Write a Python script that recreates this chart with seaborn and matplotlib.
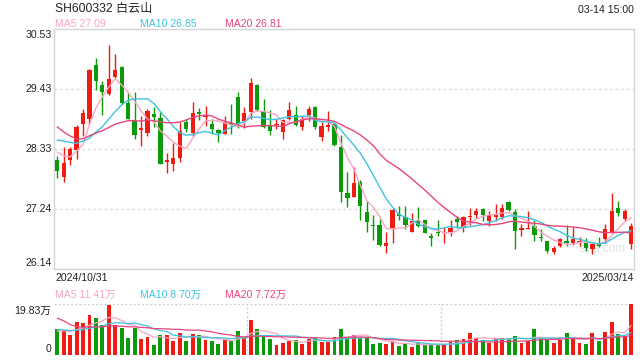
import numpy as np
import pandas as pd
import matplotlib
matplotlib.use("Agg")
import matplotlib.pyplot as plt
import seaborn as sns

# ---------------- data ----------------
opens = [28.13, 27.83, 28.14, 28.32, 28.80, 28.88, 29.87, 29.50, 29.35, 29.66,
         29.83, 29.17, 28.85, 28.69, 28.63, 28.97, 28.90, 28.10, 28.06, 28.17,
         28.82, 28.63, 29.01, 28.92, 28.79, 28.68, 28.61, 28.81, 29.28, 28.85,
         29.02, 29.50, 29.01, 28.78, 28.77, 28.65, 28.88, 28.95, 28.73, 28.95,
         29.10, 28.56, 28.74, 28.79, 28.38, 27.53, 27.46, 27.74, 27.18, 26.94,
         26.94, 26.56, 26.89, 27.14, 27.10, 26.82, 27.04, 27.03, 26.74, 26.82,
         26.79, 26.82, 27.05, 26.90, 27.09, 27.13, 27.23, 27.02, 27.10, 27.09,
         27.37, 27.19, 26.86, 26.87, 26.92, 26.73, 26.66, 26.45, 26.56, 26.65,
         26.62, 26.64, 26.62, 26.50, 26.62, 26.68, 26.81, 27.25, 27.06, 26.60]
highs = [28.21, 28.38, 28.37, 28.78, 29.06, 29.80, 30.00, 29.57, 30.24, 30.08,
         29.86, 29.37, 29.38, 28.93, 29.06, 29.10, 29.02, 28.26, 28.45, 28.83,
         28.89, 29.20, 29.09, 29.13, 28.89, 28.70, 28.93, 29.15, 29.37, 29.11,
         29.64, 29.52, 29.25, 29.05, 28.89, 28.89, 29.20, 29.13, 28.93, 29.13,
         29.13, 28.82, 29.03, 28.81, 28.59, 27.92, 28.00, 27.76, 27.39, 27.12,
         27.05, 26.82, 27.25, 27.29, 27.29, 27.16, 27.28, 27.04, 26.79, 27.03,
         26.90, 27.04, 27.11, 27.11, 27.26, 27.25, 27.25, 27.20, 27.32, 27.32,
         27.39, 27.23, 26.96, 27.21, 27.04, 26.88, 26.66, 26.56, 26.71, 26.94,
         26.91, 26.73, 26.70, 26.62, 26.73, 26.97, 27.53, 27.39, 27.23, 26.99]
lows = [27.80, 27.73, 28.05, 28.16, 28.58, 28.79, 29.41, 28.95, 29.33, 29.63,
        29.16, 28.88, 28.52, 28.39, 28.58, 28.74, 28.06, 27.90, 27.94, 28.09,
        28.64, 28.58, 28.86, 28.76, 28.61, 28.47, 28.61, 28.61, 28.72, 28.72,
        28.88, 29.03, 28.71, 28.59, 28.70, 28.52, 28.86, 28.76, 28.69, 28.84,
        28.70, 28.48, 28.67, 28.39, 27.36, 27.28, 27.46, 27.03, 26.81, 26.67,
        26.56, 26.43, 26.62, 27.03, 26.87, 26.81, 26.90, 26.79, 26.56, 26.74,
        26.62, 26.74, 26.89, 26.81, 26.94, 27.08, 27.02, 26.93, 27.02, 27.06,
        27.20, 26.50, 26.75, 26.87, 26.66, 26.65, 26.43, 26.42, 26.54, 26.56,
        26.57, 26.56, 26.47, 26.41, 26.55, 26.62, 26.79, 27.11, 27.01, 26.50]
closes = [27.94, 28.08, 28.33, 28.74, 28.99, 29.78, 29.57, 29.38, 29.61, 29.78,
          29.18, 28.89, 28.60, 28.72, 29.03, 28.92, 28.06, 28.13, 28.17, 28.66,
          28.70, 28.99, 28.97, 28.94, 28.70, 28.62, 28.82, 28.78, 28.80, 28.99,
          29.54, 29.04, 28.74, 28.67, 28.79, 28.86, 29.05, 28.78, 28.88, 29.06,
          28.74, 28.75, 28.77, 28.41, 27.54, 27.43, 27.71, 27.29, 27.00, 26.93,
          26.58, 26.61, 27.22, 27.11, 26.94, 27.01, 26.93, 26.79, 26.71, 26.79,
          26.81, 26.89, 27.00, 27.09, 27.11, 27.20, 27.12, 27.13, 27.13, 27.25,
          27.22, 26.84, 26.89, 26.89, 26.76, 26.70, 26.47, 26.52, 26.68, 26.61,
          26.68, 26.65, 26.53, 26.59, 26.56, 26.87, 27.20, 27.17, 27.20, 26.93]
# volume in 万
volumes = [10.18, 9.78, 7.67, 12.69, 12.29, 15.47, 14.28, 11.50, 19.43, 11.50,
           10.31, 6.74, 10.31, 6.35, 7.01, 3.97, 7.93, 7.93, 5.29, 8.73,
           5.55, 8.33, 7.93, 5.95, 5.29, 4.36, 6.35, 5.68, 9.52, 7.01,
           13.48, 9.92, 7.54, 6.35, 3.97, 4.76, 5.55, 5.95, 4.36, 6.35,
           6.74, 5.16, 5.16, 7.01, 9.92, 7.01, 7.93, 6.74, 7.01, 4.36,
           4.76, 4.36, 5.55, 3.57, 4.36, 3.17, 4.76, 3.97, 3.97, 3.97,
           3.97, 5.16, 5.95, 6.35, 8.73, 6.61, 5.95, 4.76, 6.61, 6.74,
           6.61, 7.54, 4.76, 5.55, 9.92, 6.74, 6.35, 4.76, 5.95, 8.73,
           6.61, 4.76, 4.36, 8.73, 5.55, 9.12, 12.69, 8.33, 7.54, 19.83]
# estimated sessions before the window (needed for the moving averages)
prior_closes = [29.95, 29.80, 29.80, 28.95, 28.70, 28.55, 28.50, 28.45, 28.55, 28.55,
                28.28, 28.58, 28.89, 28.60, 29.25, 28.43, 28.43, 28.19, 28.41]
prior_volumes = [30.0, 36.0, 30.0, 16.0, 14.0, 13.0, 12.0, 12.0, 12.0, 12.0,
                 11.0, 10.5, 10.5, 10.5, 10.25, 9.0, 9.0, 9.0, 9.07]

title_text = "SH600332 白云山"
time_text = "03-14 15:00"
price_ticks = [30.53, 29.43, 28.33, 27.24, 26.14]
price_tick_labels = ["30.53", "29.43", "28.33", "27.24", "26.14"]
date_labels = ["2024/10/31", "2025/03/14"]
ma_labels = ["MA5 27.09", "MA10 26.85", "MA20 26.81"]
vol_ma_labels = ["MA5 11.41万", "MA10 8.70万", "MA20 7.72万"]
vol_tick_labels = ["19.83万", "0"]
vol_max = 19.83

# ---------------- styling ----------------
sns.set_style("white")
plt.rcParams["font.family"] = ["Liberation Sans", "Noto Sans CJK SC", "DejaVu Sans"]

RED = "#ee1c12"
GREEN = "#0a9a0a"
C_MA5 = "#f7a6c2"
C_MA10 = "#3ec3e0"
C_MA20 = "#e8457c"
GRID = "#dcdcdc"
FRAME = "#d4d4d4"

n = len(closes)
idx = np.arange(n)
df = pd.DataFrame({"i": idx, "open": opens, "high": highs, "low": lows,
                   "close": closes, "vol": volumes})
up = df["close"] >= df["open"]
colors = np.where(up, RED, GREEN)

all_close = pd.Series(prior_closes + closes)
all_vol = pd.Series(prior_volumes + volumes)
k = len(prior_closes)
for w in (5, 10, 20):
    df[f"ma{w}"] = all_close.rolling(w).mean().iloc[k:].to_numpy()
    df[f"vma{w}"] = all_vol.rolling(w).mean().iloc[k:].to_numpy()

W, H = 640, 360
fig = plt.figure(figsize=(6.4, 3.6), dpi=100)
L, R = 54, 634
ax = fig.add_axes([L / W, 1 - 269 / H, (R - L) / W, 240 / H])
axv = fig.add_axes([L / W, 1 - 355 / H, (R - L) / W, 51 / H])

xlim = (-0.5, n - 1 + 0.45)

# ---- price panel ----
ax.set_xlim(*xlim)
ax.set_ylim(26.14, 30.53)
for y in price_ticks[1:-1]:
    ax.axhline(y, color=GRID, lw=1.0, ls=(0, (2, 2)), zorder=0)
ax.vlines(df["i"], df["low"], df["high"], colors=colors, lw=1.0, zorder=2)
body_lo = np.minimum(df["open"], df["close"])
body_h = np.maximum(np.abs(df["close"] - df["open"]), 0.02)
ax.bar(df["i"], body_h, bottom=body_lo, width=0.66, color=colors, lw=0, zorder=3)
sns.lineplot(data=df, x="i", y="ma5", ax=ax, color=C_MA5, lw=1.0, zorder=4)
sns.lineplot(data=df, x="i", y="ma10", ax=ax, color=C_MA10, lw=1.0, zorder=4)
sns.lineplot(data=df, x="i", y="ma20", ax=ax, color=C_MA20, lw=1.0, zorder=4)
ax.set_xticks([])
ax.set_yticks([])
ax.set_xlabel("")
ax.set_ylabel("")
for s in ax.spines.values():
    s.set_color(FRAME)
    s.set_linewidth(1.0)
ax.text(0.905, 0.083, "sina.com", transform=ax.transAxes, color="#c8c8c8",
        fontsize=8.5, alpha=0.55, ha="left", va="center", zorder=1)

# ---- volume panel ----
axv.set_xlim(*xlim)
axv.set_ylim(0, vol_max)
axv.bar(df["i"], df["vol"], width=0.6, color=colors, lw=0, zorder=2)
sns.lineplot(data=df, x="i", y="vma5", ax=axv, color=C_MA5, lw=0.9, zorder=3)
sns.lineplot(data=df, x="i", y="vma10", ax=axv, color=C_MA10, lw=0.9, zorder=3)
sns.lineplot(data=df, x="i", y="vma20", ax=axv, color=C_MA20, lw=0.9, zorder=3)
axv.axhline(vol_max, color="#cfcfcf", lw=1.0, ls=(0, (1.5, 1.5)), zorder=0)
for frac in (1 / 3, 2 / 3):
    axv.axvline(xlim[0] + frac * (xlim[1] - xlim[0]), color="#cfcfcf", lw=1.0,
                ls=(0, (1.5, 1.5)), zorder=0)
axv.set_xticks([])
axv.set_yticks([])
axv.set_xlabel("")
axv.set_ylabel("")
for s in axv.spines.values():
    s.set_visible(False)

# ---- texts ----
def ftext(x, y, s, **kw):
    fig.text(x / W, 1 - y / H, s, **kw)

FS = 7.6
ftext(55, 9, title_text, fontsize=8.7, color="#222222", ha="left", va="center")
ftext(634, 10, time_text, fontsize=FS, color="#222222", ha="right", va="center")
for xx, s, c in zip((55, 140, 225), ma_labels, (C_MA5, C_MA10, C_MA20)):
    ftext(xx, 24, s, fontsize=FS, color=c, ha="left", va="center")
for xx, s, c in zip((55, 140, 225), vol_ma_labels, (C_MA5, C_MA10, C_MA20)):
    ftext(xx, 294.5, s, fontsize=FS, color=c, ha="left", va="center")

ypos = [35, 89.5, 149, 209, 263.5]
for yy, s in zip(ypos, price_tick_labels):
    ftext(51.5, yy, s, fontsize=FS, color="#222222", ha="right", va="center")
ftext(55, 278, date_labels[0], fontsize=FS, color="#222222", ha="left", va="center")
ftext(634, 278, date_labels[1], fontsize=FS, color="#222222", ha="right", va="center")
ftext(51.5, 311, vol_tick_labels[0], fontsize=FS, color="#222222", ha="right", va="center")
ftext(51.5, 348.5, vol_tick_labels[1], fontsize=FS, color="#222222", ha="right", va="center")

fig.savefig("out.png", dpi=100)
